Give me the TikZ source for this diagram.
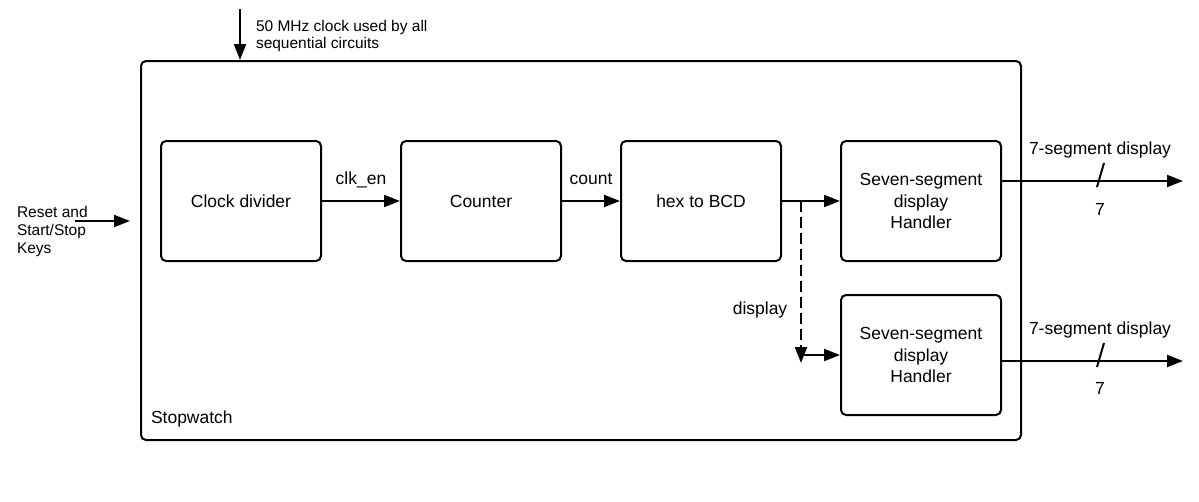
\documentclass[tikz,border=0pt]{standalone}
\usepackage{fontspec}
\setmainfont{Liberation Sans}
\usetikzlibrary{arrows.meta}
\begin{document}
\begin{tikzpicture}[x=1pt,y=-1pt, line width=2pt,
  blk/.style={draw, rounded corners=5pt, minimum width=160pt, minimum height=120pt, align=center, font=\fontsize{17.5}{21.5}\selectfont, inner sep=0pt},
  lbl/.style={font=\fontsize{17.5}{21.5}\selectfont, inner sep=0pt},
  sm/.style={font=\fontsize{15.5}{18}\selectfont, inner sep=0pt},
  arr/.style={-{Triangle[length=16pt,width=12pt]}},
  dsh/.style={dash pattern=on 11pt off 5pt}]
\useasboundingbox (0,0) rectangle (1199,501);
\fill[white] (0,0) rectangle (1199,501);
% outer box
\node[draw, rounded corners=5pt, minimum width=880pt, minimum height=379pt, inner sep=0pt] (sw) at (581,250.5) {};
\node[lbl, anchor=base west] (swl) at (150,423) {Stopwatch};
% blocks
\node[blk] (cd) at (241,201) {Clock divider};
\node[blk] (ct) at (481,201) {Counter};
\node[blk] (hb) at (701,201) {hex to BCD};
\node[blk] (s1) at (921,201) {Seven-segment\\display\\Handler};
\node[blk] (s2) at (921,355) {Seven-segment\\display\\Handler};
% internal connectors
\draw[arr] (cd) -- (ct);
\node[lbl, anchor=base] (lclk) at (361,184) {clk\_en};
\draw[arr] (ct) -- (hb);
\node[lbl, anchor=base] (lcnt) at (591,184) {count};
\draw[arr] (hb) -- (s1);
\coordinate (br) at (801,201);
\coordinate (dd) at (801,363);
\draw[arr, dsh] (br) -- (dd);
\coordinate (jn) at (801,355);
\draw[arr] (jn) -- (s2.west);
\node[lbl, anchor=base] (ldsp) at (760,314) {display};
% clock input
\coordinate (ck) at (240,9);
\draw[arr] (ck) -- (ck |- sw.north);
\node[sm, anchor=base west] (lck1) at (255,31) {50 MHz clock used by all};
\node[sm, anchor=base west] (lck2) at (255,48) {sequential circuits};
% keys input
\coordinate (rk) at (75,221);
\coordinate (rt) at (130,221);
\draw[arr] (rk) -- (rt);
\node[sm, anchor=base west] (lr1) at (16,217) {Reset and};
\node[sm, anchor=base west] (lr2) at (16,235) {Start/Stop};
\node[sm, anchor=base west] (lr3) at (16,253) {Keys};
% outputs
\coordinate (o1) at (1183,181);
\draw[arr] ([yshift=20pt]s1.east) -- (o1);
\coordinate (sl1a) at (1097,187);
\coordinate (sl1b) at (1104,163);
\draw (sl1a) -- (sl1b);
\node[lbl, anchor=base] (lo1) at (1100,154) {7-segment display};
\node[lbl, anchor=base] (ln1) at (1100,215) {7};
\coordinate (o2) at (1183,361);
\draw[arr] ([yshift=-6pt]s2.east) -- (o2);
\coordinate (sl2a) at (1097,367);
\coordinate (sl2b) at (1104,343);
\draw (sl2a) -- (sl2b);
\node[lbl, anchor=base] (lo2) at (1100,334) {7-segment display};
\node[lbl, anchor=base] (ln2) at (1100,394) {7};
\end{tikzpicture}
\end{document}
